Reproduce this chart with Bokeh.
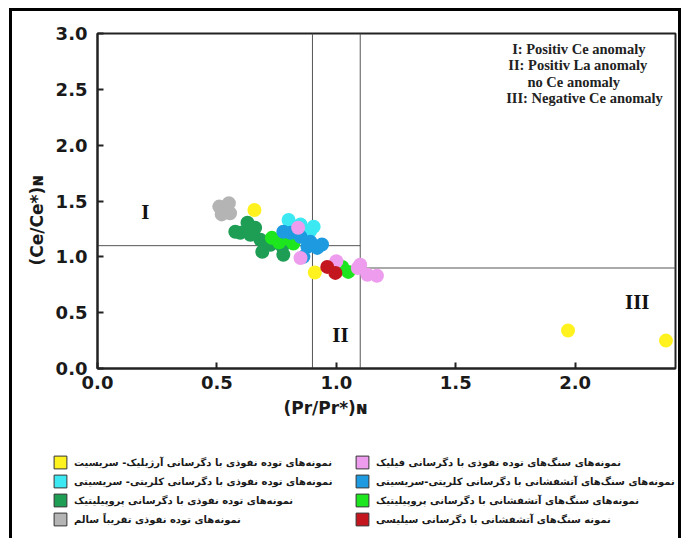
from bokeh.plotting import figure
from bokeh.layouts import column
from bokeh.models import (Range1d, FixedTicker, PrintfTickFormatter, Label, Title, Legend, LegendItem)
from bokeh.embed import file_html
from bokeh.resources import INLINE

# ---------------- data ----------------
x_limits = [0.0, 2.42]
y_limits = [0.0, 3.0]
x_ticks = [0.0, 0.5, 1.0, 1.5, 2.0]
y_ticks = [0.0, 0.5, 1.0, 1.5, 2.0, 2.5, 3.0]

# field boundary segments
bound_x0 = [0.0, 0.9, 1.1, 1.1]
bound_y0 = [1.1, 0.0, 0.0, 0.9]
bound_x1 = [1.1, 0.9, 1.1, 2.42]
bound_y1 = [1.1, 3.0, 3.0, 0.9]

field_labels = ["I", "II", "III"]
field_label_x = [0.20, 1.017, 2.26]
field_label_y = [1.40, 0.30, 0.595]

note_lines = ["I: Positiv Ce anomaly", "II: Positiv La anomaly", "no Ce anomaly", "III: Negative Ce anomaly"]
note_x = [1.736, 1.72, 1.80, 1.711]
note_y = [2.86, 2.715, 2.57, 2.425]

yellow_x = [0.657, 0.91, 1.97, 2.38]
yellow_y = [1.42, 0.86, 0.34, 0.25]
cyan_x = [0.80, 0.85, 0.89, 0.905]
cyan_y = [1.33, 1.29, 1.23, 1.27]
dgreen_x = [0.577, 0.598, 0.628, 0.64, 0.66, 0.682, 0.69, 0.724, 0.774, 0.778]
dgreen_y = [1.225, 1.216, 1.306, 1.198, 1.26, 1.153, 1.045, 1.108, 1.09, 1.018]
gray_x = [0.51, 0.55, 0.52, 0.555]
gray_y = [1.45, 1.48, 1.38, 1.39]
pink_x = [0.84, 0.85, 1.0, 1.1, 1.09, 1.13, 1.17]
pink_y = [1.26, 0.99, 0.96, 0.93, 0.90, 0.84, 0.83]
blue_x = [0.778, 0.808, 0.85, 0.879, 0.891, 0.92, 0.862, 0.94]
blue_y = [1.225, 1.216, 1.18, 1.09, 1.135, 1.08, 1.0, 1.11]
bgreen_x = [0.73, 0.76, 0.80, 0.82, 1.025, 1.05]
bgreen_y = [1.17, 1.13, 1.16, 1.12, 0.91, 0.865]
red_x = [0.962, 0.996]
red_y = [0.91, 0.856]

left_names = [
    "نمونه\u200cهای توده نفوذی با دگرسانی آرژیلیک- سریسیت",
    "نمونه\u200cهای توده نفوذی با دگرسانی کلریتی- سریسیتی",
    "نمونه\u200cهای توده نفوذی با دگرسانی پروپیلیتیک",
    "نمونه\u200cهای توده نفوذی تقریباً سالم",
]
right_names = [
    "نمونه\u200cهای سنگ\u200cهای توده نفوذی با دگرسانی فیلیک",
    "نمونه\u200cهای سنگ\u200cهای آتشفشانی با دگرسانی کلریتی-سریسیتی",
    "نمونه\u200cهای سنگ\u200cهای آتشفشانی با دگرسانی پروپیلیتیک",
    "نمونه سنگ\u200cهای آتشفشانی با دگرسانی سیلیسی",
]

C_YELLOW = "#FFF21E"
C_CYAN = "#3CE8F2"
C_DGREEN = "#1E9E55"
C_GRAY = "#B4B4B4"
C_PINK = "#EE9CEE"
C_BLUE = "#1E9BE0"
C_BGREEN = "#1EE61E"
C_RED = "#C4161F"
left_cols = [C_YELLOW, C_CYAN, C_DGREEN, C_GRAY]
right_cols = [C_PINK, C_BLUE, C_BGREEN, C_RED]

# ---------------- main figure ----------------
p = figure(width=666, height=427, x_range=Range1d(*x_limits), y_range=Range1d(*y_limits),
           output_backend="svg", toolbar_location=None,
           min_border_left=85, min_border_top=22, min_border_right=3, min_border_bottom=70)
p.grid.visible = False
p.outline_line_color = "#222222"
p.outline_line_width = 2
p.background_fill_color = "white"
p.border_fill_color = "white"

for ax, tk in ((p.xaxis, x_ticks), (p.yaxis, y_ticks)):
    ax.ticker = FixedTicker(ticks=tk)
    ax.formatter = PrintfTickFormatter(format="%.1f")
    ax.major_tick_in = 6
    ax.major_tick_out = 0
    ax.minor_tick_line_color = None
    ax.axis_line_width = 2
    ax.axis_line_color = "#222222"
    ax.major_tick_line_width = 2
    ax.major_tick_line_color = "#222222"
    ax.major_label_text_font = "DejaVu Sans"
    ax.major_label_text_font_style = "bold"
    ax.major_label_text_font_size = "18px"
    ax.major_label_text_color = "#1a1a1a"
p.xaxis.major_label_standoff = 7
p.yaxis.major_label_standoff = 10

p.add_layout(Title(text="(Pr/Pr*)ɴ", align="left", offset=186, standoff=8,
                   text_font="DejaVu Sans", text_font_style="bold", text_font_size="17px",
                   text_color="#1a1a1a"), "below")
p.add_layout(Title(text="(Ce/Ce*)ɴ", align="left", offset=103, standoff=12,
                   text_font="DejaVu Sans", text_font_style="bold", text_font_size="17px",
                   text_color="#1a1a1a"), "left")

p.segment(x0=bound_x0, y0=bound_y0, x1=bound_x1, y1=bound_y1, line_color="#555555", line_width=1)

S = 14
p.scatter(gray_x, gray_y, size=S, color=C_GRAY, line_color=None)
p.scatter(dgreen_x, dgreen_y, size=S, color=C_DGREEN, line_color=None)
p.scatter(cyan_x, cyan_y, size=S, color=C_CYAN, line_color=None)
p.scatter(bgreen_x, bgreen_y, size=S, color=C_BGREEN, line_color=None)
p.scatter(blue_x, blue_y, size=S, color=C_BLUE, line_color=None)
p.scatter(pink_x, pink_y, size=S, color=C_PINK, line_color=None)
p.scatter(yellow_x, yellow_y, size=S, color=C_YELLOW, line_color=None)
p.scatter(red_x, red_y, size=S, color=C_RED, line_color=None)

for t, x, y in zip(field_labels, field_label_x, field_label_y):
    p.add_layout(Label(x=x, y=y, text=t, text_font="Liberation Serif", text_font_style="bold",
                       text_font_size="21px", text_align="center", text_baseline="middle",
                       text_color="#111111"))

for t, x, y in zip(note_lines, note_x, note_y):
    p.add_layout(Label(x=x, y=y, text=t, text_font="Liberation Serif", text_font_style="bold",
                       text_font_size="14.5px", text_align="left", text_baseline="middle",
                       text_color="#222222"))

# ---------------- legend strip (separate root, pixel-like ranges) ----------------
LW, LH = 666, 100
lf = figure(width=LW, height=LH, x_range=Range1d(0, LW), y_range=Range1d(0, LH),
            output_backend="svg", toolbar_location=None,
            min_border_left=0, min_border_right=0, min_border_top=0, min_border_bottom=0,
            x_axis_type=None, y_axis_type=None)
lf.grid.visible = False
lf.outline_line_color = None
lf.background_fill_color = "white"
lf.border_fill_color = "white"

def make_legend(names, cols, loc):
    items = []
    for n, c in zip(names, cols):
        # swatch renderer placed outside the visible range; only its legend square shows
        r = lf.quad(left=[-60], right=[-50], top=[-50], bottom=[-60], fill_color=c,
                    line_color="#333333", line_width=1)
        items.append(LegendItem(label=n, renderers=[r]))
    leg = Legend(items=items, location=loc, orientation="vertical",
                 padding=0, margin=0, spacing=3, glyph_width=16, glyph_height=16,
                 label_height=16, label_standoff=6, border_line_color=None,
                 background_fill_alpha=0, label_text_font="DejaVu Sans",
                 label_text_font_style="bold", label_text_font_size="10px",
                 label_text_color="#1a1a1a")
    lf.add_layout(leg, "center")

make_legend(left_names, left_cols, (40, 11))
make_legend(right_names, right_cols, (342, 11))

top_part = column(p, styles={"border-top": "3px solid black", "border-left": "3px solid black",
                             "border-right": "3px solid black", "margin-left": "9px", "margin-top": "8px"})
bottom_part = column(lf, styles={"border-left": "3px solid black", "border-right": "3px solid black",
                                 "margin-left": "9px"})

open("out.html", "w").write(file_html([top_part, bottom_part], INLINE))
